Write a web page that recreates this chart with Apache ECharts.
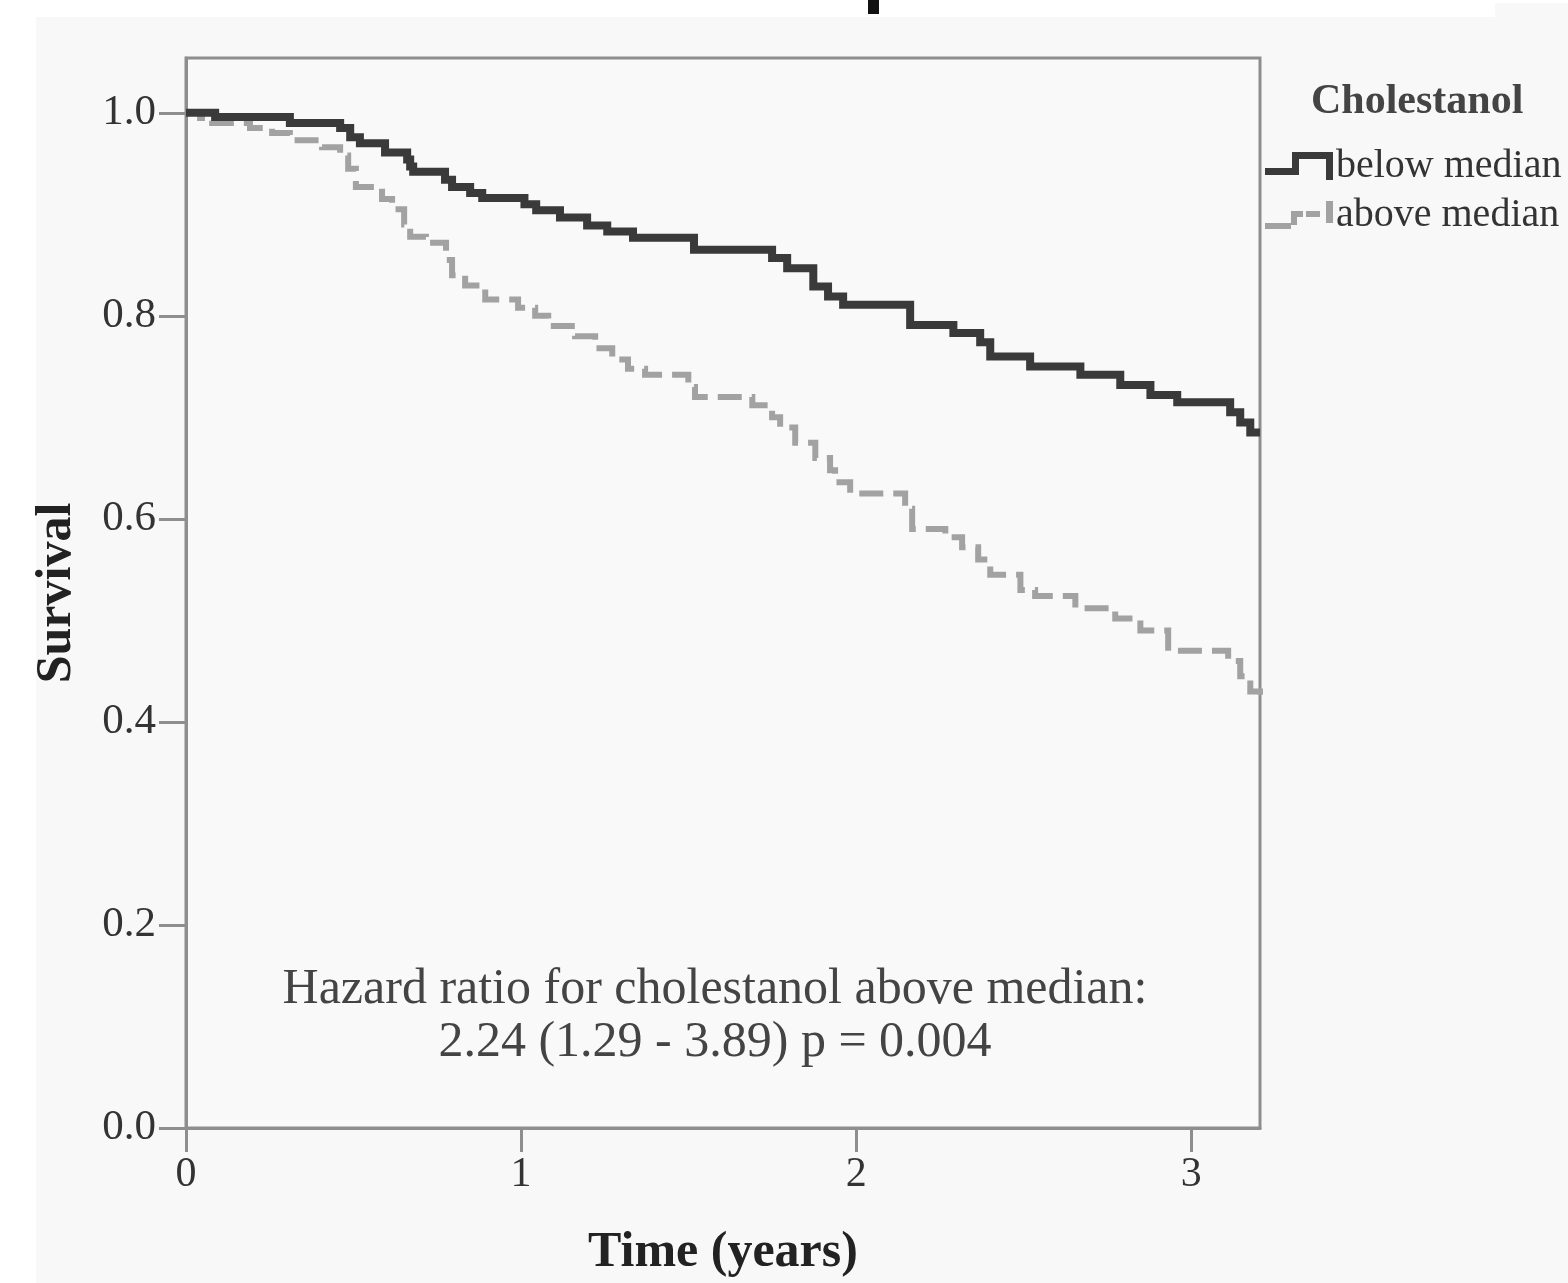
<!DOCTYPE html>
<html>
<head>
<meta charset="utf-8">
<script src="https://cdn.jsdelivr.net/npm/echarts@6/dist/echarts.min.js"></script>
<style>
  html, body { margin: 0; padding: 0; background: #ffffff; }
  #chart { width: 1568px; height: 1283px; }
</style>
</head>
<body>
<div id="chart"></div>
<script>
// ---- Data (Kaplan-Meier step curves) ----
const belowTime = [0, 0.087, 0.310, 0.460, 0.490, 0.519, 0.594, 0.660, 0.669, 0.678, 0.773, 0.794, 0.848, 0.884, 1.010, 1.045, 1.116, 1.197, 1.257, 1.334, 1.516, 1.749, 1.794, 1.872, 1.916, 1.961, 2.161, 2.290, 2.370, 2.400, 2.519, 2.669, 2.788, 2.878, 2.958, 3.116, 3.146, 3.176, 3.205];
const belowSurv = [1.000, 0.996, 0.990, 0.985, 0.976, 0.970, 0.961, 0.954, 0.947, 0.942, 0.934, 0.927, 0.921, 0.916, 0.910, 0.904, 0.897, 0.889, 0.883, 0.877, 0.865, 0.857, 0.847, 0.829, 0.819, 0.811, 0.791, 0.783, 0.774, 0.760, 0.750, 0.742, 0.732, 0.722, 0.715, 0.705, 0.695, 0.685, 0.685];

const aboveTime = [0, 0.042, 0.078, 0.191, 0.257, 0.310, 0.406, 0.460, 0.484, 0.507, 0.585, 0.615, 0.651, 0.669, 0.716, 0.776, 0.794, 0.833, 0.893, 0.991, 1.042, 1.081, 1.161, 1.221, 1.272, 1.319, 1.370, 1.499, 1.519, 1.690, 1.749, 1.773, 1.818, 1.878, 1.922, 1.937, 1.982, 2.146, 2.167, 2.266, 2.316, 2.364, 2.400, 2.490, 2.534, 2.654, 2.773, 2.848, 2.931, 3.110, 3.146, 3.176, 3.205];
const aboveSurv = [1.000, 0.995, 0.990, 0.985, 0.980, 0.973, 0.966, 0.958, 0.945, 0.927, 0.915, 0.905, 0.890, 0.878, 0.872, 0.855, 0.840, 0.830, 0.816, 0.808, 0.800, 0.790, 0.780, 0.768, 0.757, 0.748, 0.742, 0.730, 0.720, 0.712, 0.700, 0.690, 0.675, 0.660, 0.648, 0.636, 0.625, 0.610, 0.590, 0.582, 0.572, 0.560, 0.545, 0.530, 0.524, 0.512, 0.502, 0.490, 0.470, 0.460, 0.445, 0.430, 0.425];

const seriesNames = ['below median', 'above median'];
const legendTitle = 'Cholestanol';
const xTicks = [0, 1, 2, 3];
const yTicks = [0, 0.2, 0.4, 0.6, 0.8, 1.0];
const xAxisTitle = 'Time (years)';
const yAxisTitle = 'Survival';
const noteLines = ['Hazard ratio for cholestanol above median:', '2.24 (1.29 - 3.89) p = 0.004'];

// ---- Styles ----
const FONT = '"Liberation Serif", "Times New Roman", serif';
const DARK = '#3a3a3a';
const LIGHT = '#a2a2a2';
const AXIS = '#8e8e8e';

const iconBelow = 'path://M0 16 L27 16 L27 0 L68 0 L68 28 L61 28 L61 7 L34 7 L34 23 L0 23 Z';
const iconAbove = 'path://M0 22 L26 22 L26 28 L0 28 Z M26 10 L38 10 L38 16 L32 16 L32 24 L26 24 Z M41 10 L55 10 L55 16 L41 16 Z M61 0 L68 0 L68 22 L61 22 Z';

function pairs(t, s) { return t.map((v, i) => [v, s[i]]); }

const chart = echarts.init(document.getElementById('chart'), null, { renderer: 'canvas' });

chart.setOption({
  backgroundColor: '#f8f8f8',
  animation: false,
  textStyle: { fontFamily: FONT },
  title: {
    text: legendTitle,
    left: 1306, top: 76,
    textStyle: { fontFamily: FONT, fontSize: 42, fontWeight: 'bold', color: '#444' }
  },
  legend: {
    orient: 'vertical',
    left: 1265, top: 146,
    itemWidth: 70, itemHeight: 28, itemGap: 9,
    padding: 0,
    itemStyle: { borderWidth: 0 },
    textStyle: { fontFamily: FONT, fontSize: 40, color: '#333', padding: [0, 0, 0, -3] },
    data: [
      { name: seriesNames[0], icon: iconBelow },
      { name: seriesNames[1], icon: iconAbove }
    ]
  },
  grid: {
    left: 186, right: 308, top: 58, bottom: 154,
    show: true, borderColor: AXIS, borderWidth: 3, backgroundColor: '#f9f9f9'
  },
  xAxis: {
    type: 'value', min: 0, max: 3.205, interval: 1,
    name: xAxisTitle, nameLocation: 'middle', nameGap: 100,
    nameTextStyle: { fontFamily: FONT, fontSize: 50, fontWeight: 'bold', color: '#222' },
    axisLine: { show: true, lineStyle: { color: AXIS, width: 3 } },
    axisTick: { show: true, length: 24, lineStyle: { color: AXIS, width: 3 }, customValues: xTicks },
    axisLabel: { fontFamily: FONT, fontSize: 42, color: '#333', margin: 26, customValues: xTicks,
      formatter: v => String(v) },
    splitLine: { show: false }
  },
  yAxis: {
    type: 'value', min: 0, max: 1.054, interval: 0.2,
    name: yAxisTitle, nameLocation: 'middle', nameGap: 104, nameRotate: 90,
    nameTextStyle: { fontFamily: FONT, fontSize: 50, fontWeight: 'bold', color: '#222' },
    axisLine: { show: true, lineStyle: { color: AXIS, width: 3 } },
    axisTick: { show: true, length: 27, lineStyle: { color: AXIS, width: 3 }, customValues: yTicks },
    axisLabel: { fontFamily: FONT, fontSize: 43, color: '#333', margin: 30, customValues: yTicks,
      formatter: v => v.toFixed(1) },
    splitLine: { show: false }
  },
  series: [
    {
      name: seriesNames[0], type: 'line', step: 'end', showSymbol: false, symbol: 'none',
      color: DARK, itemStyle: { color: DARK },
      lineStyle: { color: DARK, width: 8, cap: 'butt', join: 'miter' },
      data: pairs(belowTime, belowSurv), z: 3
    },
    {
      name: seriesNames[1], type: 'line', step: 'end', showSymbol: false, symbol: 'none',
      color: LIGHT, itemStyle: { color: LIGHT },
      lineStyle: { color: LIGHT, width: 6, type: [24, 10], cap: 'butt', join: 'miter' },
      data: pairs(aboveTime, aboveSurv), z: 2
    }
  ],
  graphic: [
    { type: 'rect', silent: true, z: -10, shape: { x: 0, y: 0, width: 1495, height: 17 }, style: { fill: '#ffffff' } },
    { type: 'rect', silent: true, z: -10, shape: { x: 1495, y: 0, width: 73, height: 3 }, style: { fill: '#ffffff' } },
    { type: 'rect', silent: true, z: -10, shape: { x: 0, y: 0, width: 36, height: 1283 }, style: { fill: '#ffffff' } },
    { type: 'rect', silent: true, z: 5, shape: { x: 868, y: 0, width: 11, height: 14 }, style: { fill: '#111111' } },
    { type: 'text', x: 715, y: 990, z: 10,
      style: { text: noteLines[0], font: '50px ' + FONT, fill: '#444', align: 'center', verticalAlign: 'middle' } },
    { type: 'text', x: 715, y: 1043, z: 10,
      style: { text: noteLines[1], font: '50px ' + FONT, fill: '#444', align: 'center', verticalAlign: 'middle' } }
  ]
});
</script>
</body>
</html>
